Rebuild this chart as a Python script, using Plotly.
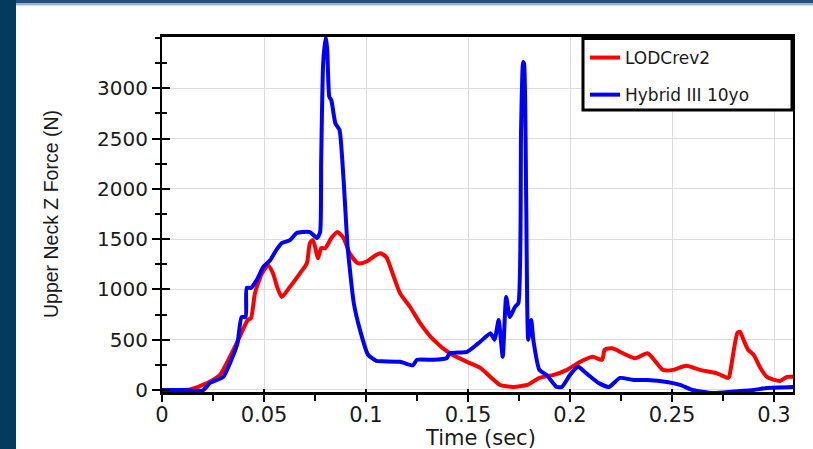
import plotly.graph_objects as go

# ---- data ----
lod_t = [0, 0.010, 0.0137, 0.020, 0.025, 0.0284, 0.0333, 0.038, 0.042, 0.0436, 0.0456, 0.049,
         0.052, 0.0544, 0.0565, 0.0587, 0.0627, 0.0676, 0.071, 0.0725, 0.074, 0.0765, 0.078,
         0.080, 0.083, 0.086, 0.089, 0.092, 0.096, 0.100, 0.104, 0.107, 0.110, 0.113, 0.1167,
         0.1216, 0.1265, 0.133, 0.141, 0.1495, 0.156, 0.161, 0.1657, 0.172, 0.179, 0.185,
         0.192, 0.1985, 0.205, 0.211, 0.2157, 0.217, 0.2206, 0.226, 0.232, 0.238, 0.2426,
         0.2456, 0.2505, 0.257, 0.2637, 0.272, 0.2775, 0.278, 0.282, 0.2833, 0.285, 0.2873,
         0.290, 0.293, 0.2965, 0.303, 0.3063, 0.310]
lod_f = [0, 0, 5, 50, 100, 150, 330, 525, 695, 715, 965, 1160,
         1240, 1160, 1020, 925, 1025, 1160, 1260, 1460, 1490, 1310, 1410,
         1410, 1510, 1570, 1510, 1360, 1260, 1275, 1330, 1360, 1320, 1160, 960,
         825, 665, 500, 365, 280, 220, 130, 50, 30, 50, 120,
         150, 200, 280, 330, 300, 400, 415, 365, 315, 365, 265,
         200, 200, 240, 200, 165, 120, 130, 565, 580, 500, 400,
         350, 230, 130, 90, 130, 130]

h3_t = [0, 0.010, 0.020, 0.0235, 0.030, 0.034, 0.037, 0.039, 0.041, 0.0415, 0.0436, 0.0465,
        0.0497, 0.053, 0.056, 0.0587, 0.0627, 0.066, 0.069, 0.0725, 0.076, 0.0775, 0.078,
        0.079, 0.0803, 0.081, 0.082, 0.083, 0.085, 0.087, 0.089, 0.091, 0.094, 0.097, 0.101,
        0.105, 0.108, 0.1167, 0.123, 0.125, 0.133, 0.1395, 0.141, 0.1495, 0.156, 0.161,
        0.163, 0.165, 0.167, 0.1687, 0.1705, 0.173, 0.1747, 0.176, 0.177, 0.1775, 0.1785,
        0.1795, 0.181, 0.182, 0.185, 0.1885, 0.1935, 0.196, 0.200, 0.204, 0.208, 0.214,
        0.219, 0.2245, 0.231, 0.2377, 0.2475, 0.254, 0.260, 0.270, 0.280, 0.290, 0.2965, 0.310]
h3_f = [0, 0, -5, 70, 130, 300, 465, 725, 725, 1015, 1015, 1095,
        1225, 1290, 1390, 1460, 1490, 1560, 1570, 1570, 1510, 1570, 2255,
        3250, 3510, 3380, 2915, 2880, 2650, 2585, 2090, 1420, 865, 600, 350,
        290, 285, 280, 245, 300, 300, 315, 365, 380, 480, 565,
        500, 695, 330, 925, 725, 825, 865, 2585, 3260, 3240, 1920,
        500, 695, 500, 200, 150, 30, 30, 150, 230, 165, 70,
        30, 120, 100, 100, 80, 50, 0, -30, -15, 0, 20, 30]

x_ticks = [0, 0.05, 0.1, 0.15, 0.2, 0.25, 0.3]
x_labels = ["0", "0.05", "0.1", "0.15", "0.2", "0.25", "0.3"]
y_ticks = [0, 500, 1000, 1500, 2000, 2500, 3000]
y_labels = ["0", "500", "1000", "1500", "2000", "2500", "3000"]
x_title = "Time (sec)"
y_title = "Upper Neck Z Force (N)"

# ---- geometry ----
W, H = 813, 449
L, R, T, B = 162, 20, 37, 57
PW, PH = W - L - R, H - T - B


def px(x):
    return (x - L) / PW


def py(y):
    return (H - B - y) / PH


XR = [0, 0.3093]
YR = [-20, 3509]

fig = go.Figure()
fig.add_trace(go.Scatter(x=lod_t, y=lod_f, mode="lines", name="LODCrev2",
                         line=dict(color="#ff0000", width=4, shape="spline", smoothing=0.6),
                         legendgroup="a"))
fig.add_trace(go.Scatter(x=h3_t, y=h3_f, mode="lines", name="Hybrid III 10yo",
                         line=dict(color="#0000ff", width=4, shape="spline", smoothing=0.5),
                         legendgroup="b"))
# empty trace to activate the overlay axes (inner halves of the crossing ticks)
fig.add_trace(go.Scatter(x=[None], y=[None], xaxis="x2", yaxis="y2", showlegend=False,
                         hoverinfo="skip"))

tickfont_y = dict(family="DejaVu Sans", size=20, color="#1a1a1a")
tickfont_x = dict(family="DejaVu Sans", size=21, color="#1a1a1a")

fig.update_layout(
    width=W, height=H,
    margin=dict(l=L, r=R, t=T, b=B, pad=0, autoexpand=False),
    paper_bgcolor="white", plot_bgcolor="white",
    showlegend=True,
    legend=dict(x=px(585), y=py(40), xanchor="left", yanchor="top",
                bgcolor="rgba(0,0,0,0)", borderwidth=0,
                font=dict(family="DejaVu Sans", size=17, color="#1a1a1a"),
                tracegroupgap=12, itemwidth=30),
    xaxis=dict(range=XR, tickvals=x_ticks, ticktext=x_labels, tickfont=tickfont_x,
               ticks="outside", ticklen=7, tickwidth=2, tickcolor="black", automargin=False,
               ticklabelstandoff=-5,
               minor=dict(dtick=0.025, ticks="outside", ticklen=6, tickwidth=2,
                          tickcolor="black", showgrid=False),
               showgrid=True, gridcolor="#dcdcdc", gridwidth=1, zeroline=False,
               showline=True, linecolor="black", linewidth=3, mirror=True),
    yaxis=dict(range=YR, tickvals=y_ticks, ticktext=y_labels, tickfont=tickfont_y,
               ticks="outside", ticklen=8, tickwidth=2, tickcolor="black", automargin=False,
               minor=dict(dtick=250, ticks="outside", ticklen=5, tickwidth=2,
                          tickcolor="black", showgrid=False),
               showgrid=True, gridcolor="#dcdcdc", gridwidth=1, zeroline=False,
               showline=True, linecolor="black", linewidth=2, mirror=True),
    xaxis2=dict(range=XR, overlaying="x", side="bottom", showgrid=False, zeroline=False,
                showline=False, showticklabels=False, tickvals=x_ticks, automargin=False,
                ticks="inside", ticklen=3, tickwidth=2, tickcolor="black"),
    yaxis2=dict(range=YR, overlaying="y", side="left", showgrid=False, zeroline=False,
                showline=False, showticklabels=False, tickvals=y_ticks, automargin=False,
                ticks="inside", ticklen=8, tickwidth=2, tickcolor="black",
                minor=dict(dtick=250, ticks="inside", ticklen=5, tickwidth=2,
                           tickcolor="black")),
    annotations=[
        dict(text=x_title, xref="paper", yref="paper", x=px(481), y=py(438),
             xanchor="center", yanchor="middle", showarrow=False,
             font=dict(family="DejaVu Sans", size=21, color="#1a1a1a")),
        dict(text=y_title, xref="paper", yref="paper", x=px(51), y=py(214),
             xanchor="center", yanchor="middle", showarrow=False, textangle=-90,
             font=dict(family="Liberation Sans", size=19.5, color="#1a1a1a")),
    ],
    shapes=[
        # left navy strip
        dict(type="rect", xref="paper", yref="paper", x0=px(0), x1=px(16),
             y0=py(H), y1=py(0), fillcolor="#053a5f", line=dict(width=0), layer="above"),
        # top strip
        dict(type="rect", xref="paper", yref="paper", x0=px(16), x1=px(W),
             y0=py(3.5), y1=py(0), fillcolor="#234f80", line=dict(width=0), layer="above"),
        dict(type="rect", xref="paper", yref="paper", x0=px(16), x1=px(W),
             y0=py(5.5), y1=py(3.5), fillcolor="#9fb4d0", line=dict(width=0), layer="above"),
        # legend box
        dict(type="rect", xref="paper", yref="paper", x0=px(583), x1=px(792),
             y0=py(110), y1=py(38.5), fillcolor="white",
             line=dict(color="black", width=3), layer="above"),
    ],
)

fig.write_html("out.html")
